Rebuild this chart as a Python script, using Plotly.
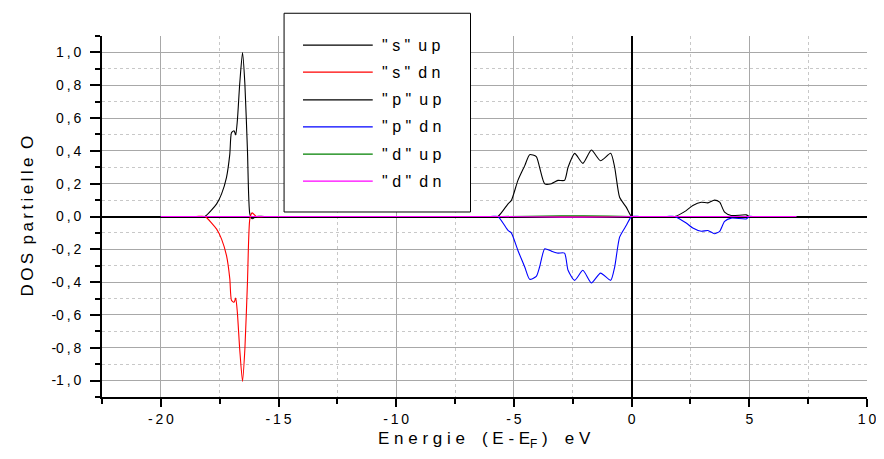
import plotly.graph_objects as go

# ---- data ----
s_energy = [-20.0, -18.5, -18.13, -17.63, -17.42, -17.21, -17.07, -17.0, -16.89, -16.82, -16.75,
            -16.65, -16.53, -16.43, -16.32, -16.22, -16.12, -15.94, -15.6, 7.0]
s_up = [0.0, 0.0, 0.0, 0.077, 0.138, 0.239, 0.38, 0.51, 0.523, 0.497, 0.584,
        0.807, 0.999, 0.807, 0.40, 0.016, -0.014, 0.0, 0.0, 0.0]
s_dn = [0.0, 0.0, 0.0, -0.077, -0.138, -0.239, -0.38, -0.51, -0.523, -0.497, -0.584,
        -0.807, -1.005, -0.807, -0.40, -0.016, 0.022, 0.0, 0.0, 0.0]

p_energy = [-20.0, -6.0, -5.68, -5.25, -5.11, -4.83, -4.54, -4.33, -4.05, -3.91, -3.69, -3.41,
            -3.13, -2.85, -2.70, -2.42, -2.07, -1.71, -1.32, -0.89, -0.72, -0.51,
            -0.23, 0.0, 0.35, 1.5, 1.83, 2.32, 2.60, 2.96, 3.24, 3.52, 3.74, 3.95, 4.23, 4.87,
            5.0, 5.2, 5.5, 7.0]
p_up = [0.0, 0.0, 0.0, 0.077, 0.097, 0.22, 0.31, 0.377, 0.365, 0.30, 0.199, 0.20,
        0.22, 0.22, 0.30, 0.385, 0.324, 0.405, 0.34, 0.385, 0.30, 0.117,
        0.057, 0.0, 0.0, 0.0, 0.0, 0.036, 0.067, 0.087, 0.083, 0.10, 0.087, 0.026, 0.006, 0.01,
        0.0, 0.0, 0.0, 0.0]
p_dn = [0.0, 0.0, 0.0, -0.085, -0.10, -0.207, -0.308, -0.383, -0.365, -0.308, -0.197, -0.211,
        -0.223, -0.223, -0.328, -0.389, -0.328, -0.405, -0.345, -0.389, -0.308, -0.126,
        -0.055, 0.0, 0.0, 0.0, 0.0, -0.04, -0.07, -0.09, -0.085, -0.105, -0.09, -0.03, -0.01, -0.015,
        0.0, 0.0, 0.0, 0.0]

d_energy = [-20.0, -5.5, -3.0, -1.0, 0.0, 7.0]
d_up = [0.0, 0.0, 0.004, 0.003, 0.0, 0.0]
d_dn = [0.0, 0.0, -0.004, -0.003, 0.0, 0.0]

legend_labels = ['" s "\u2002u p', '" s "\u2002d n',
                 '" p "\u2002u p', '" p "\u2002d n',
                 '" d "\u2002u p', '" d "\u2002d n']
colors = ["#000000", "#ff0000", "#000000", "#0000ff", "#008000", "#ff00ff"]

y_tickvals = [-1.0, -0.8, -0.6, -0.4, -0.2, 0.0, 0.2, 0.4, 0.6, 0.8, 1.0]
y_ticktext = ["-1\u2009,\u20090", "-0\u2009,\u20098", "-0\u2009,\u20096", "-0\u2009,\u20094",
              "-0\u2009,\u20092", "0\u2009,\u20090", "0\u2009,\u20092", "0\u2009,\u20094",
              "0\u2009,\u20096", "0\u2009,\u20098", "1\u2009,\u20090"]
x_tickvals = [-20, -15, -10, -5, 0, 5, 10]
x_ticktext = ["-\u20092\u20090", "-\u20091\u20095", "-\u20091\u20090", "-\u20095", "0", "5", "1\u20090"]

x_title = "E n e r g i e\u2003( E - E<sub>F</sub> )\u2003e V"
y_title = "D\u2009O\u2009S\u2002p\u2009a\u2009r\u2009t\u2009i\u2009e\u2009l\u2009l\u2009e\u2002O"

FONT = "Liberation Sans, Arial, sans-serif"

fig = go.Figure()
series = [
    (s_energy, s_up), (s_energy, s_dn),
    (p_energy, p_up), (p_energy, p_dn),
    (d_energy, d_up), (d_energy, d_dn),
]
for (ex, ey), lab, col in zip(series, legend_labels, colors):
    fig.add_trace(go.Scatter(
        x=ex, y=ey, mode="lines", name=lab,
        line=dict(color=col, width=1.1, shape="spline", smoothing=0.6),
        showlegend=False,
    ))

# manual legend box (Origin style)
shapes = [dict(type="rect", xref="paper", yref="paper",
               x0=0.238, x1=0.4817, y0=0.5125, y1=1.063,
               line=dict(color="black", width=1), fillcolor="white", layer="above")]
annotations = []
rows_y = [0.975, 0.900, 0.823, 0.748, 0.673, 0.598]
for yy, lab, col in zip(rows_y, legend_labels, colors):
    shapes.append(dict(type="line", xref="paper", yref="paper",
                       x0=0.2627, x1=0.3539, y0=yy, y1=yy,
                       line=dict(color=col, width=1.3), layer="above"))
    annotations.append(dict(xref="paper", yref="paper", x=0.3634, y=yy,
                            text=lab, showarrow=False, xanchor="left", yanchor="middle",
                            font=dict(family=FONT, size=16, color="black")))
# axis titles
annotations.append(dict(xref="paper", yref="paper", x=0.5, y=-0.119, text=x_title,
                        showarrow=False, xanchor="center", yanchor="middle",
                        font=dict(family=FONT, size=17, color="black")))
annotations.append(dict(xref="paper", yref="paper", x=-0.098, y=0.5, text=y_title,
                        showarrow=False, xanchor="center", yanchor="middle", textangle=-90,
                        font=dict(family=FONT, size=17, color="black")))

# page body has an 8px margin: size the figure so the plot area lands on the reference pixels
fig.update_layout(
    width=868, height=443, autosize=False,
    margin=dict(l=94, r=9, t=28, b=54, pad=0),
    paper_bgcolor="white", plot_bgcolor="white",
    font=dict(family=FONT, color="black"),
    shapes=shapes, annotations=annotations,
    showlegend=False,
)
fig.update_xaxes(
    range=[-22.5, 10], tickmode="array", tickvals=x_tickvals, ticktext=x_ticktext,
    showline=True, linecolor="black", linewidth=2, mirror=False, automargin=False,
    ticks="outside", ticklen=8, tickwidth=1.5, tickcolor="black",
    tickfont=dict(size=14, family=FONT), ticklabeloverflow="allow",
    showgrid=True, gridcolor="#a8a8a8", gridwidth=1,
    zeroline=True, zerolinecolor="black", zerolinewidth=2,
    minor=dict(tickmode="array", tickvals=[-22.5, -17.5, -12.5, -7.5, -2.5, 2.5, 7.5],
               ticks="outside", ticklen=5, tickcolor="black", tickwidth=1.5,
               showgrid=True, gridcolor="#c8c8c8", griddash="dot", gridwidth=1),
)
fig.update_yaxes(
    range=[-1.1, 1.1], tickmode="array", tickvals=y_tickvals, ticktext=y_ticktext,
    showline=True, linecolor="black", linewidth=2, automargin=False,
    ticks="outside", ticklen=10, tickwidth=1.5, tickcolor="black",
    tickfont=dict(size=14, family=FONT), ticklabelstandoff=6, ticklabeloverflow="allow",
    showgrid=True, gridcolor="#a8a8a8", gridwidth=1,
    zeroline=True, zerolinecolor="black", zerolinewidth=1.5,
    minor=dict(tickmode="array",
               tickvals=[-1.1, -0.9, -0.7, -0.5, -0.3, -0.1, 0.1, 0.3, 0.5, 0.7, 0.9, 1.1],
               ticks="outside", ticklen=5, tickcolor="black", tickwidth=1.5,
               showgrid=True, gridcolor="#c8c8c8", griddash="dot", gridwidth=1),
)

fig.write_html("out.html")
